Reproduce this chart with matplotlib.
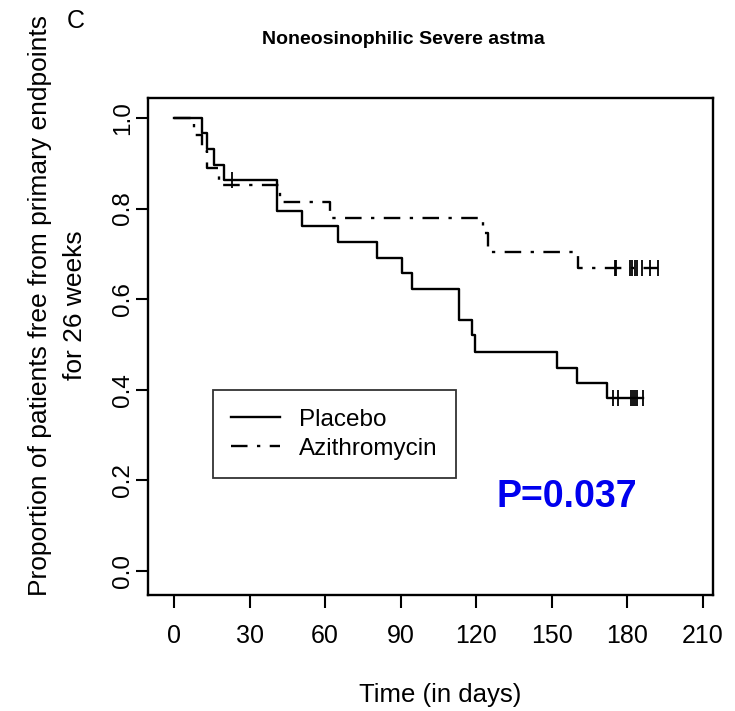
import numpy as np
import matplotlib
matplotlib.use('Agg')
import matplotlib.pyplot as plt

# Kaplan-Meier steps (time in days, survival)
placebo_times = [0, 11, 13, 16, 20, 41, 51, 65, 80.5, 90.5, 94.5, 113, 118.5, 119.5, 152, 160, 172, 186.3]
placebo_surv = [1.0, 0.966, 0.931, 0.897, 0.862, 0.795, 0.762, 0.727, 0.690, 0.657, 0.622, 0.553, 0.521, 0.483, 0.447, 0.416, 0.381, 0.381]
placebo_censor = [23, 174.2, 176.4, 181.3, 182.1, 183, 184, 186.3]

azithro_times = [0, 8, 11, 13, 18, 42, 62, 122.5, 124.7, 160.5, 192]
azithro_surv = [1.0, 0.963, 0.926, 0.889, 0.852, 0.815, 0.779, 0.745, 0.705, 0.668, 0.668]
azithro_censor = [175, 175.5, 181, 182, 183, 184, 186, 189, 192]

x_ticks = [0, 30, 60, 90, 120, 150, 180, 210]
y_ticks = [0.0, 0.2, 0.4, 0.6, 0.8, 1.0]

plt.rcParams['font.family'] = ['Liberation Sans', 'DejaVu Sans']

fig = plt.figure(figsize=(7.35, 7.11), dpi=100)
ax = fig.add_axes([148/735, 1-595/711, 565/735, 497/711])

def surv_at(times, surv, t):
    idx = np.searchsorted(times, t, side='right') - 1
    return np.array(surv)[idx]

ax.step(placebo_times, placebo_surv, where='post', color='black', lw=1.7, label='Placebo')
ax.step(azithro_times, azithro_surv, where='post', color='black', lw=1.7,
        dashes=(7, 4, 1.4, 4), label='Azithromycin')
ax.plot(placebo_censor, surv_at(placebo_times, placebo_surv, placebo_censor), ls='none',
        marker='|', ms=11, mew=1.3, color='black')
ax.plot(azithro_censor, surv_at(azithro_times, azithro_surv, azithro_censor), ls='none',
        marker='|', ms=11, mew=1.3, color='black')

ax.set_xlim(-10.3, 214)
ax.set_ylim(-0.053, 1.044)
ax.set_xticks(x_ticks)
ax.set_yticks(y_ticks)
ax.set_xticklabels([str(t) for t in x_ticks], fontsize=18)
ax.set_yticklabels([f'{t:.1f}' for t in y_ticks], fontsize=17.5, rotation=90, va='center')
ax.tick_params(axis='both', direction='out', length=9, width=1.5, color='black')
ax.tick_params(axis='x', pad=12)
ax.tick_params(axis='y', pad=1)
for sp in ax.spines.values():
    sp.set_linewidth(1.7)

leg = ax.legend(loc='lower left', bbox_to_anchor=(0.115, 0.235), fontsize=17.5,
                frameon=True, fancybox=False, edgecolor='black', borderaxespad=0,
                handlelength=2.0, handletextpad=0.8, labelspacing=0.3, borderpad=0.75)
leg.get_frame().set_linewidth(1.3)

ax.text(567/735, 1-497/711, 'P=0.037', transform=fig.transFigure, ha='center', va='center',
        fontsize=27, fontweight='bold', color='#0000EE')

fig.text(403/735, 1-40/711, 'Noneosinophilic Severe astma', ha='center', va='center',
         fontsize=14, fontweight='bold')
fig.text(76/735, 1-21/711, 'C', ha='center', va='center', fontsize=18)
fig.text(40/735, 1-305/711, 'Proportion of patients free from primary endpoints',
         rotation=90, ha='center', va='center', fontsize=19)
fig.text(75/735, 1-305/711, 'for 26 weeks', rotation=90, ha='center', va='center', fontsize=19)
fig.text(440/735, 1-695/711, 'Time (in days)', ha='center', va='center', fontsize=18.5)

fig.savefig('out.png', dpi=100)
